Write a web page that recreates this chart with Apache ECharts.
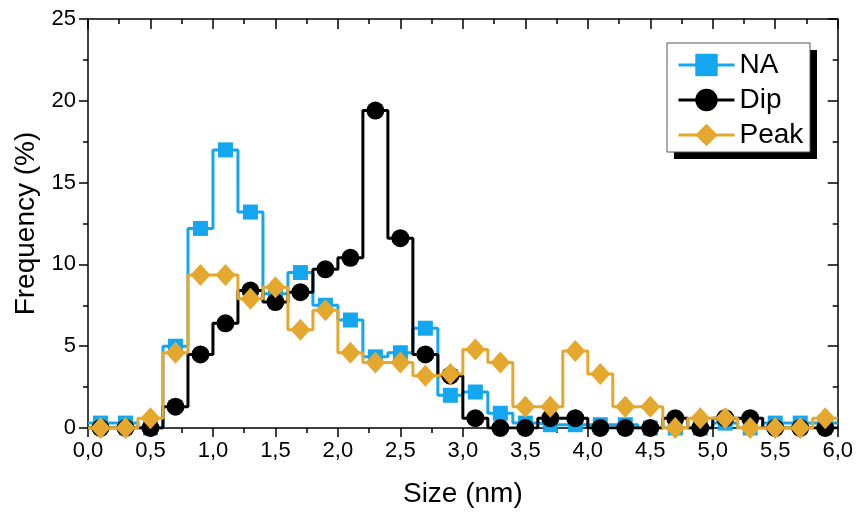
<!DOCTYPE html>
<html>
<head>
<meta charset="utf-8">
<title>Size distribution</title>
<script src="https://cdn.jsdelivr.net/npm/echarts@6/dist/echarts.min.js"></script>
<style>
    html, body { margin: 0; padding: 0; background: #fff; }
    #main { width: 856px; height: 515px; }
</style>
</head>
<body>
<div id="main"></div>
<script>
// bin centres (nm), bin width 0.2
var sizes = [0.1, 0.3, 0.5, 0.7, 0.9, 1.1, 1.3, 1.5, 1.7, 1.9,
             2.1, 2.3, 2.5, 2.7, 2.9, 3.1, 3.3, 3.5, 3.7, 3.9,
             4.1, 4.3, 4.5, 4.7, 4.9, 5.1, 5.3, 5.5, 5.7, 5.9];

// frequency (%) per bin
var naFreq = [0.3, 0.3, 0, 5.0, 12.2, 17.0, 13.2, 8.2, 9.5, 7.5,
              6.6, 4.35, 4.6, 6.1, 2.0, 2.2, 0.9, 0.3, 0.2, 0.2,
              0.2, 0.2, 0, 0, 0, 0.3, 0, 0.3, 0.3, 0.3];
var dipFreq = [0, 0, 0, 1.3, 4.5, 6.4, 8.4, 7.7, 8.3, 9.7,
               10.4, 19.4, 11.6, 4.5, 3.2, 0.6, 0, 0, 0.6, 0.6,
               0, 0, 0, 0.6, 0, 0.6, 0.6, 0, 0, 0];
var peakFreq = [0, 0, 0.6, 4.6, 9.35, 9.35, 7.9, 8.6, 6.0, 7.2,
                4.6, 4.0, 4.0, 3.2, 3.3, 4.8, 4.0, 1.3, 1.3, 4.7,
                3.3, 1.3, 1.3, 0, 0.6, 0.6, 0, 0, 0, 0.6];

var xTicks = { min: 0, max: 6, interval: 0.5 };
var yTicks = { min: 0, max: 25, interval: 5 };

var font = 'Liberation Sans, Arial, sans-serif';

// histogram step line: also run the outer bins out to the axis ends
function stepData(vals) {
    var out = [{ value: [xTicks.min, vals[0]], symbol: 'none' }];
    for (var i = 0; i < sizes.length; i++) {
        out.push([sizes[i], vals[i]]);
    }
    out.push({ value: [xTicks.max, vals[vals.length - 1]], symbol: 'none' });
    return out;
}

function makeSeries(name, vals, color, symbol, symbolSize) {
    return {
        name: name,
        type: 'line',
        step: 'middle',
        data: stepData(vals),
        color: color,
        symbol: symbol,
        symbolSize: symbolSize,
        showAllSymbol: true,
        lineStyle: { width: 3, color: color },
        itemStyle: { color: color },
        emphasis: { disabled: true },
        animation: false
    };
}

function xLabel(v) {
    return v.toFixed(1).replace('.', ',');
}

var axisLine = { show: true, onZero: false, lineStyle: { color: '#000', width: 1.5 } };
var tickStyle = { color: '#000', width: 1.5 };

var chart = echarts.init(document.getElementById('main'));
chart.setOption({
    backgroundColor: '#fff',
    animation: false,
    grid: { left: 88, right: 18, top: 19, bottom: 87, containLabel: false },
    // legend frame with its solid drop shadow
    graphic: [{
        type: 'rect', z: 3, silent: true,
        shape: { x: 674, y: 50, width: 143, height: 109 },
        style: { fill: '#000' }
    }, {
        type: 'rect', z: 3, silent: true,
        shape: { x: 667, y: 43, width: 143, height: 109 },
        style: { fill: '#fff', stroke: '#555', lineWidth: 1 }
    }],
    legend: {
        orient: 'vertical',
        left: 667,
        top: 43,
        z: 10,
        padding: [8, 10, 8, 10],
        itemGap: 7,
        itemWidth: 56,
        itemHeight: 28,
        lineStyle: { width: 3 },
        textStyle: { fontFamily: font, fontSize: 28, color: '#000' },
        data: ['NA', 'Dip', 'Peak']
    },
    xAxis: [{
        type: 'value',
        min: xTicks.min, max: xTicks.max, interval: xTicks.interval,
        position: 'bottom',
        name: 'Size (nm)',
        nameLocation: 'middle',
        nameGap: 52,
        nameTextStyle: { fontFamily: font, fontSize: 28, color: '#000' },
        axisLine: axisLine,
        axisTick: { show: true, inside: false, length: 9, lineStyle: tickStyle },
        minorTick: { show: true, splitNumber: 2, length: 5, lineStyle: tickStyle },
        axisLabel: { fontFamily: font, fontSize: 22, color: '#000', margin: 12, formatter: xLabel },
        splitLine: { show: false }
    }, {
        type: 'value',
        min: xTicks.min, max: xTicks.max, interval: xTicks.interval,
        position: 'top',
        axisLine: axisLine,
        axisTick: { show: true, inside: true, length: 10, lineStyle: tickStyle },
        minorTick: { show: true, splitNumber: 2, length: 5, lineStyle: tickStyle },
        axisLabel: { show: false },
        splitLine: { show: false }
    }],
    yAxis: [{
        type: 'value',
        min: yTicks.min, max: yTicks.max, interval: yTicks.interval,
        position: 'left',
        name: 'Frequency (%)',
        nameLocation: 'middle',
        nameGap: 46,
        nameRotate: 90,
        nameTextStyle: { fontFamily: font, fontSize: 28, color: '#000' },
        axisLine: axisLine,
        axisTick: { show: true, inside: false, length: 9, lineStyle: tickStyle },
        minorTick: { show: true, splitNumber: 2, length: 5, lineStyle: tickStyle },
        axisLabel: { fontFamily: font, fontSize: 22, color: '#000', margin: 12 },
        splitLine: { show: false }
    }, {
        type: 'value',
        min: yTicks.min, max: yTicks.max, interval: yTicks.interval,
        position: 'right',
        axisLine: axisLine,
        axisTick: { show: true, inside: true, length: 10, lineStyle: tickStyle },
        minorTick: { show: true, splitNumber: 2, length: 5, lineStyle: tickStyle },
        axisLabel: { show: false },
        splitLine: { show: false }
    }],
    series: [
        makeSeries('NA', naFreq, '#14a7f0', 'rect', 15),
        makeSeries('Dip', dipFreq, '#000000', 'circle', 18),
        makeSeries('Peak', peakFreq, '#e5a82e', 'diamond', [20, 22])
    ]
});
</script>
</body>
</html>
